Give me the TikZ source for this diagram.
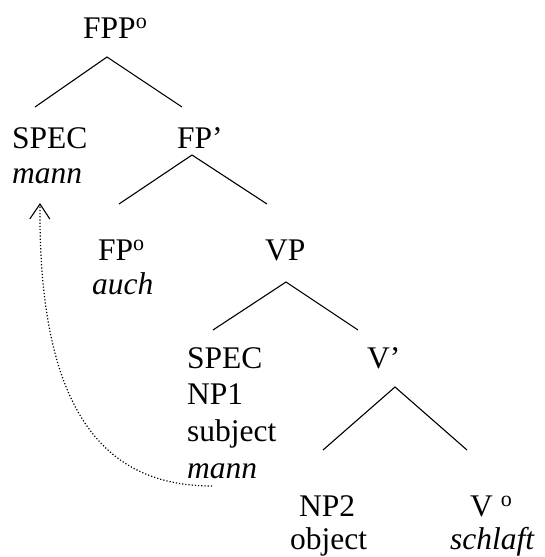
\documentclass[tikz,border=0pt]{standalone}
\usepackage{fontspec}
\setmainfont{Liberation Serif}
\usetikzlibrary{arrows.meta}
\begin{document}
\begin{tikzpicture}[x=1pt,y=-1pt,
  lbl/.style={anchor=base west, inner sep=0pt, font=\fontsize{31.5}{35}\selectfont},
  branch/.style={line width=1.1pt},
  movearrow/.style={dotted, line width=1.2pt, -{Straight Barb[length=15pt,width=20pt,line width=1.1pt]}}]
\useasboundingbox (0,0) rectangle (545,557);
% labels
\node[lbl] (fpp) at (83,38) {FPP\textsuperscript{o}};
\node[lbl] (spec1) at (12,148) {SPEC};
\node[lbl] (mann1) at (12,183) {\itshape mann};
\node[lbl] (fpbar) at (177,148) {FP’};
\node[lbl] (fp0) at (98,260) {FP\textsuperscript{o}};
\node[lbl] (auch) at (92,294) {\itshape auch};
\node[lbl] (vp) at (265,260) {VP};
\node[lbl] (spec2) at (187,368) {SPEC};
\node[lbl] (np1) at (187,404.7) {NP1};
\node[lbl] (subj) at (187,441.3) {subject};
\node[lbl] (mann2) at (187,478) {\itshape mann};
\node[lbl] (vbar) at (367,368) {V’};
\node[lbl] (np2) at (299,516) {NP2};
\node[lbl] (obj) at (290,549) {object};
\node[lbl] (v0) at (470,516) {V \textsuperscript{o}};
\node[lbl] (schlaft) at (450,549) {\itshape schlaft};
% branch points
\coordinate (a1) at (107,57);  \coordinate (a1l) at (35,107);  \coordinate (a1r) at (182,107);
\coordinate (a2) at (192,155); \coordinate (a2l) at (119,204); \coordinate (a2r) at (267,204);
\coordinate (a3) at (286,282); \coordinate (a3l) at (213,330); \coordinate (a3r) at (358,330);
\coordinate (a4) at (395,387); \coordinate (a4l) at (323,450); \coordinate (a4r) at (467,450);
\draw[branch] (a1l) -- (a1) -- (a1r);
\draw[branch] (a2l) -- (a2) -- (a2r);
\draw[branch] (a3l) -- (a3) -- (a3r);
\draw[branch] (a4l) -- (a4) -- (a4r);
% movement
\coordinate (mvstart) at (212,486);
\coordinate (mvend) at (40,203);
\draw[movearrow] (mvstart) .. controls (110,486) and (38,420) .. (mvend);
\end{tikzpicture}
\end{document}
